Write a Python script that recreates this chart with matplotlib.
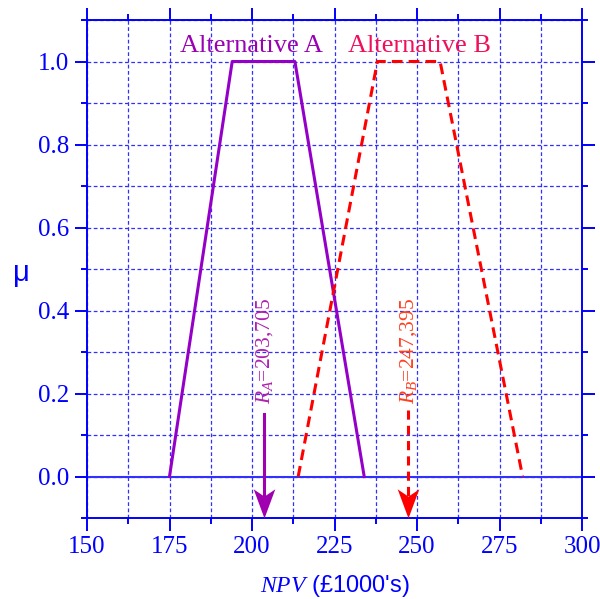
import numpy as np
import matplotlib
matplotlib.use("Agg")
import matplotlib.pyplot as plt
from matplotlib.ticker import MultipleLocator
from matplotlib.path import Path

plt.rcParams['font.family'] = ['Liberation Serif', 'DejaVu Serif']
plt.rcParams['mathtext.fontset'] = 'custom'
plt.rcParams['mathtext.rm'] = 'Liberation Serif'
plt.rcParams['mathtext.it'] = 'Liberation Serif:italic'

# trapezoidal fuzzy numbers (NPV in £1000's, membership)
npv_a = [175, 194, 213, 234]
mu_a = [0, 1, 1, 0]
npv_b = [214, 238, 257, 282]
mu_b = [0, 1, 1, 0]
# ranking values
r_a = 203.705
r_b = 247.395
r_labels = ["$R_A$=203,705", "$R_B$=247,395"]

blue = '#0000ff'
col_a = '#9400c8'
col_b = '#ff0000'

# notched arrow head, tip at origin, pointing down
head = Path([(0, 0), (-0.37, 1), (0, 0.75), (0.37, 1), (0, 0)],
            [Path.MOVETO, Path.LINETO, Path.LINETO, Path.LINETO, Path.CLOSEPOLY])

fig = plt.figure(figsize=(6.0, 5.99), dpi=100)
ax = fig.add_axes([0.145, 0.1352, 0.825, 0.8314])

ax.set_xlim(150, 300)
ax.set_ylim(-0.1, 1.1)
ax.xaxis.set_major_locator(MultipleLocator(25))
ax.xaxis.set_minor_locator(MultipleLocator(12.5))
ax.yaxis.set_minor_locator(MultipleLocator(0.1))
ax.set_yticks(np.arange(0, 1.01, 0.2))
ax.set_yticklabels(['%.1f' % v for v in np.arange(0, 1.01, 0.2)])

ax.grid(True, which='both', color='#3030ff', linestyle=(0, (3, 2)), linewidth=0.9)
ax.axhline(0, color='#3030ff', linewidth=1.5, zorder=1)

for s in ax.spines.values():
    s.set_color(blue)
    s.set_linewidth(1.4)
ax.tick_params(which='both', direction='out', color=blue, labelcolor=blue,
               top=True, right=True, labeltop=False, labelright=False, width=1.4)
ax.tick_params(which='major', length=9, labelsize=18, pad=4)
ax.tick_params(which='minor', length=4.5)

ax.plot(npv_a, mu_a, color=col_a, linewidth=2.2, zorder=3)
ax.plot(npv_b, mu_b, color=col_b, linewidth=2.2, linestyle=(0, (3.5, 2)), zorder=3)

ax.text(199.7, 1.024, "Alternative A", color='#9a00b4', fontsize=19, ha='center', va='baseline')
ax.text(250.6, 1.024, "Alternative B", color='#f0105a', fontsize=19, ha='center', va='baseline')

# ranking arrows
ax.plot([r_a, r_a], [0.15, -0.07], color='#a000b0', linewidth=2.2, zorder=4)
ax.plot([r_a], [-0.1], marker=head, markersize=42, color='#a000b0',
        markeredgewidth=0, clip_on=False, zorder=5)
ax.plot([r_b, r_b], [0.16, -0.07], color=col_b, linewidth=2.2, linestyle=(0, (3, 2)), zorder=4)
ax.plot([r_b], [-0.1], marker=head, markersize=42, color=col_b,
        markeredgewidth=0, clip_on=False, zorder=5)

ax.text(r_a, 0.175, r_labels[0], color='#b020b0', fontsize=15.5, rotation=90, ha='center', va='bottom')
ax.text(r_b, 0.175, r_labels[1], color='#ff4020', fontsize=15.5, rotation=90, ha='center', va='bottom')

ax.set_xlabel(r"$NPV$ (£1000's)", family='Liberation Sans', color=blue, fontsize=17, labelpad=11)
fig.text(0.035, 0.545, "μ", family='Liberation Sans', color=blue, fontsize=21, ha='center', va='center')

fig.savefig('out.png', dpi=100)
